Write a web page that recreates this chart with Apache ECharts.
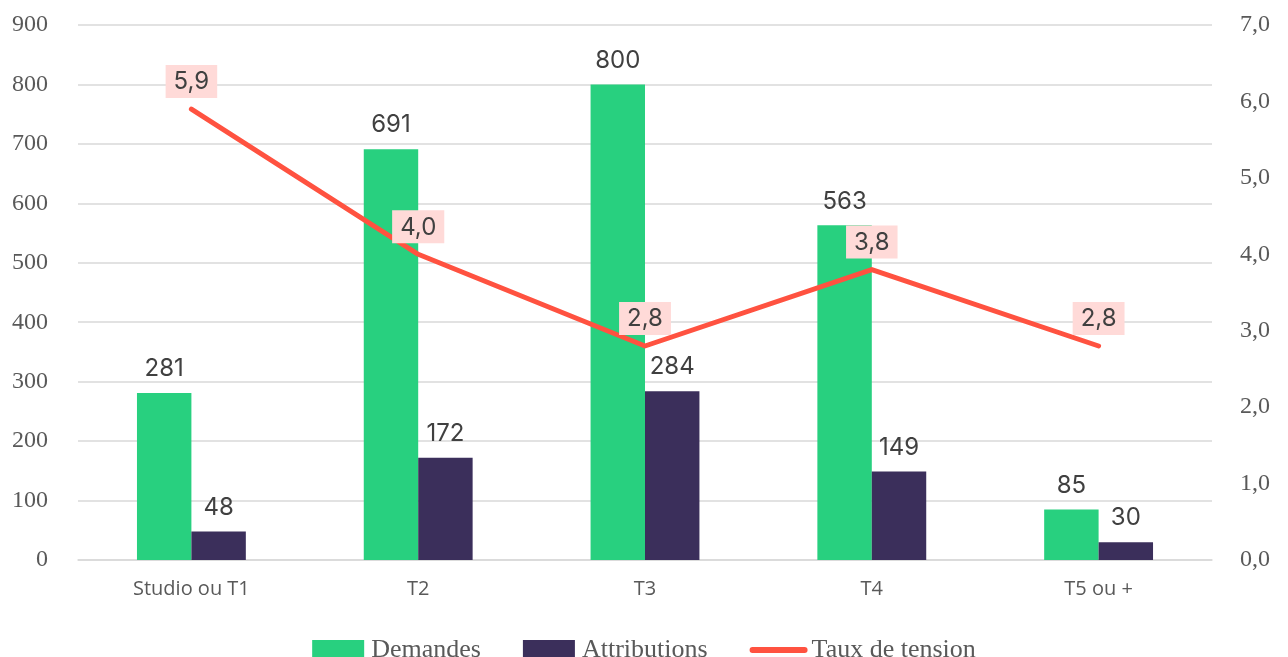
<!DOCTYPE html>
<html>
<head>
<meta charset="utf-8">
<script src="https://cdn.jsdelivr.net/npm/echarts@6/dist/echarts.min.js"></script>
<style>
  html, body { margin: 0; padding: 0; background: #fff; }
  #chart { width: 1288px; height: 657px; }
</style>
</head>
<body>
<div id="chart"></div>
<script>
// Logements : demandes, attributions et taux de tension par typologie
const categories = ['Studio ou T1', 'T2', 'T3', 'T4', 'T5 ou +'];
const demandes = [281, 691, 800, 563, 85];
const attributions = [48, 172, 284, 149, 30];
const tauxTension = [5.9, 4.0, 2.8, 3.8, 2.8];

const leftTicks = { min: 0, max: 900, interval: 100 };
const rightTicks = { min: 0, max: 7, interval: 1 };

const axisFont = "'Liberation Serif', 'DejaVu Serif', serif";
const labelFont = "Inter, 'Liberation Sans', sans-serif";
const catFont = "'Open Sans', 'Noto Sans', sans-serif";
const frNum = v => v.toFixed(1).replace('.', ',');

const chart = echarts.init(document.getElementById('chart'));

chart.setOption({
  animation: false,
  backgroundColor: '#ffffff',
  grid: { left: 78, right: 76, top: 25, bottom: 97 },
  legend: {
    top: 632,
    left: 'center',
    itemGap: 42,
    itemWidth: 52,
    itemHeight: 20,
    textStyle: { fontFamily: axisFont, fontSize: 26, color: '#595959', padding: [0, 0, 0, 2] },
    data: [
      { name: 'Demandes', icon: 'rect' },
      { name: 'Attributions', icon: 'rect' },
      {
        name: 'Taux de tension',
        itemStyle: { opacity: 0 },
        lineStyle: { width: 6, cap: 'round', color: '#FF5240' }
      }
    ]
  },
  xAxis: {
    type: 'category',
    data: categories,
    axisTick: { show: false },
    axisLine: { lineStyle: { color: '#d9d9d9', width: 1.5 } },
    axisLabel: { fontFamily: catFont, fontSize: 20, color: '#595959', margin: 19 }
  },
  yAxis: [
    {
      type: 'value',
      min: leftTicks.min, max: leftTicks.max, interval: leftTicks.interval,
      axisLine: { show: false },
      axisTick: { show: false },
      splitLine: { lineStyle: { color: '#d9d9d9', width: 1.5 } },
      axisLabel: { fontFamily: axisFont, fontSize: 24, color: '#595959', margin: 30 }
    },
    {
      type: 'value',
      position: 'right',
      min: rightTicks.min, max: rightTicks.max, interval: rightTicks.interval,
      axisLine: { show: false },
      axisTick: { show: false },
      splitLine: { show: false },
      axisLabel: {
        fontFamily: axisFont, fontSize: 24, color: '#595959', margin: 28,
        formatter: frNum
      }
    }
  ],
  series: [
    {
      name: 'Demandes',
      type: 'bar',
      data: demandes,
      barWidth: '24%',
      barGap: '0%',
      itemStyle: { color: '#28D07F' },
      label: {
        show: true, position: 'top', distance: 12,
        fontFamily: labelFont, fontSize: 24, color: '#404040'
      }
    },
    {
      name: 'Attributions',
      type: 'bar',
      data: attributions,
      barWidth: '24%',
      itemStyle: { color: '#3B2F5B' },
      label: {
        show: true, position: 'top', distance: 12,
        fontFamily: labelFont, fontSize: 24, color: '#404040'
      }
    },
    {
      name: 'Taux de tension',
      type: 'line',
      yAxisIndex: 1,
      data: tauxTension,
      symbol: 'circle',
      symbolSize: 2,
      lineStyle: { color: '#FF5240', width: 5, cap: 'round', join: 'round' },
      itemStyle: { color: '#FF5240' },
      z: 5,
      label: {
        show: true, position: 'top', distance: 10,
        fontFamily: labelFont, fontSize: 24, color: '#404040',
        backgroundColor: '#FFDAD8',
        padding: [5, 8, 4, 8],
        formatter: p => frNum(p.value)
      }
    }
  ]
});
</script>
</body>
</html>
